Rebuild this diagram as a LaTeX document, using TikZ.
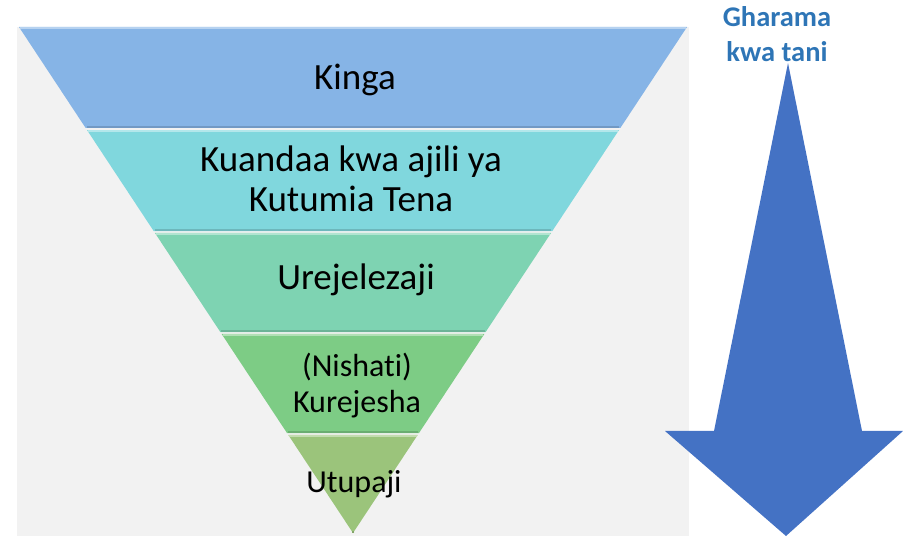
\documentclass[tikz,border=0pt]{standalone}
\usepackage{fontspec}
\setmainfont[Ligatures=NoCommon]{Carlito}
\usetikzlibrary{calc}
\definecolor{bg}{HTML}{F2F2F2}
\definecolor{layA}{HTML}{86B4E6}
\definecolor{layB}{HTML}{80D7DD}
\definecolor{layC}{HTML}{7ED3B2}
\definecolor{layD}{HTML}{7DCC85}
\definecolor{layE}{HTML}{9BC47B}
\definecolor{arrowblue}{HTML}{4472C4}
\definecolor{titleblue}{HTML}{2E75B6}
\begin{document}
\begin{tikzpicture}[x=1pt,y=-1pt,
  lab/.style={font=\fontsize{37}{40}\selectfont, align=center, inner sep=0pt, anchor=base},
  labs/.style={font=\fontsize{32}{36}\selectfont, align=center, inner sep=0pt, anchor=base},
  costlab/.style={font=\bfseries\fontsize{28.5}{35}\selectfont, text=titleblue, align=center, inner sep=0pt, anchor=base}]
\useasboundingbox (0,0) rectangle (903,537);
\fill[bg] (17,27) rectangle (689,536);
\coordinate (TL) at (19,27);
\coordinate (TR) at (687,27);
\coordinate (AP) at (353,533);
\foreach \a/\b/\c in {0/0.1996/layA, 0.2036/0.4032/layB, 0.4071/0.6028/layC, 0.6067/0.8024/layD, 0.8063/1/layE}{
  \fill[\c] ($(TL)!\a!(AP)$) -- ($(TR)!\a!(AP)$) -- ($(TR)!\b!(AP)$) -- ($(TL)!\b!(AP)$) -- cycle;
  \draw[\c!60!white, line width=1.2pt] ($(TL)!\a!(AP)+(1,1)$) -- ($(TR)!\a!(AP)+(-1,1)$);
  \draw[\c!85!black, line width=1.2pt] ($(TL)!\b!(AP)+(1,-1)$) -- ($(TR)!\b!(AP)+(-1,-1)$);
}
\fill[arrowblue] (788,63) -- (862,431) -- (903,431) -- (786,536) -- (665,431) -- (714,431) -- cycle;
\node[lab] (kinga) at (355,90) {Kinga};
\node[lab] (kuandaa) at (351,212) {Kuandaa kwa ajili ya\\Kutumia Tena};
\node[lab] (urej) at (356,290) {Urejelezaji};
\node[labs] (kurej) at (357,413) {(Nishati)\\Kurejesha};
\node[labs] (utup) at (354,492) {Utupaji};
\node[costlab] (cost) at (777,62) {Gharama\\kwa tani};
\end{tikzpicture}
\end{document}
